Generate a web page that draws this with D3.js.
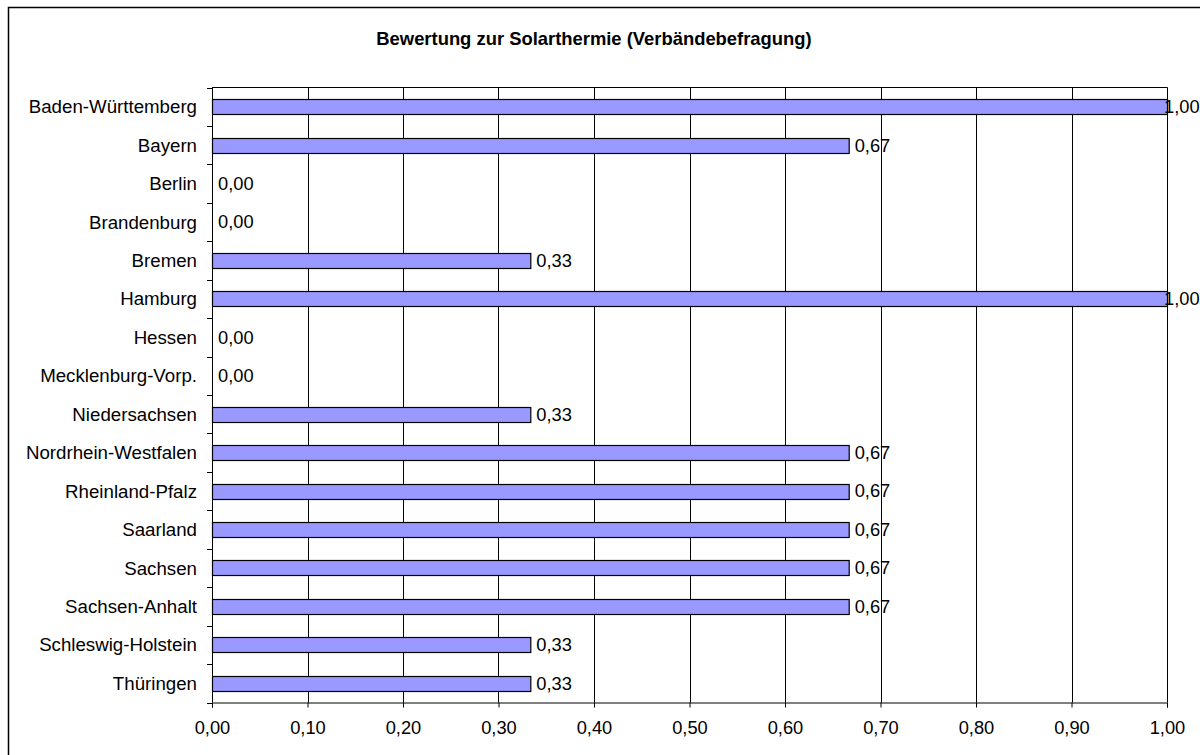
<!DOCTYPE html>
<html>
<head>
<meta charset="utf-8">
<script src="https://cdn.jsdelivr.net/npm/d3@7"></script>
<style>
  body { margin: 0; background: #fff; }
  svg text { font-family: "Liberation Sans", Arial, sans-serif; fill: #000; }
</style>
</head>
<body>
<svg id="chart" width="1200" height="755"></svg>
<script>
// Data
var chartTitle = 'Bewertung zur Solarthermie (Verbändebefragung)';
var states = [
  'Baden-Württemberg', 'Bayern', 'Berlin', 'Brandenburg', 'Bremen', 'Hamburg',
  'Hessen', 'Mecklenburg-Vorp.', 'Niedersachsen', 'Nordrhein-Westfalen',
  'Rheinland-Pfalz', 'Saarland', 'Sachsen', 'Sachsen-Anhalt',
  'Schleswig-Holstein', 'Thüringen'
];
var ratings = [
  1.00, 0.6667, 0.00, 0.00, 0.3333, 1.00,
  0.00, 0.00, 0.3333, 0.6667,
  0.6667, 0.6667, 0.6667, 0.6667,
  0.3333, 0.3333
];
var xTicks = [0, 0.1, 0.2, 0.3, 0.4, 0.5, 0.6, 0.7, 0.8, 0.9, 1.0];

var svg = d3.select('#chart');
var W = 1200;

// Plot area
var plot = { left: 212, right: 1167, top: 87.5, bottom: 702.5 };

var fmt = function(v) { return d3.format('.2f')(v).replace('.', ','); };

// Outer frame (runs off the right and bottom edge)
svg.append('rect')
  .attr('x', 8.5).attr('y', 7.5)
  .attr('width', 1210).attr('height', 770)
  .attr('fill', 'none').attr('stroke', '#000').attr('stroke-width', 1.5);

// Title
svg.append('text')
  .attr('x', 594).attr('y', 45)
  .attr('text-anchor', 'middle')
  .style('font-size', '18.4px').style('font-weight', 'bold')
  .text(chartTitle);

// Scales
var x = d3.scaleLinear().domain([0, 1]).range([plot.left, plot.right]);
var y = d3.scaleBand().domain(states).range([plot.top, plot.bottom])
  .paddingInner(0.61).paddingOuter(0.305);
var step = y.step();

// Gridlines
svg.append('g').selectAll('line')
  .data(xTicks.slice(1))
  .enter().append('line')
  .attr('x1', function(d) { return Math.round(x(d)) + 0.5; })
  .attr('x2', function(d) { return Math.round(x(d)) + 0.5; })
  .attr('y1', plot.top).attr('y2', plot.bottom)
  .attr('stroke', '#000').attr('stroke-width', 1);

// Plot top border
svg.append('line')
  .attr('x1', plot.left).attr('x2', plot.right + 0.5)
  .attr('y1', plot.top).attr('y2', plot.top)
  .attr('stroke', '#000').attr('stroke-width', 1);

// Bars
svg.append('g').selectAll('rect')
  .data(states)
  .enter().append('rect')
  .attr('x', x(0) + 0.5)
  .attr('y', function(d) { return Math.round(y(d)) + 0.5; })
  .attr('width', function(d, i) { return Math.max(0, x(ratings[i]) - x(0)); })
  .attr('height', Math.round(y.bandwidth()))
  .attr('fill', '#9999ff')
  .attr('stroke', function(d, i) { return ratings[i] > 0 ? '#000' : 'none'; })
  .attr('stroke-width', 1.2);

// Value labels
svg.append('g').selectAll('text')
  .data(states)
  .enter().append('text')
  .attr('x', function(d, i) { return Math.min(x(ratings[i]) + 6, W - 36); })
  .attr('y', function(d) { return y(d) + y.bandwidth() / 2; })
  .attr('dy', '0.35em')
  .style('font-size', '18.3px')
  .text(function(d, i) { return fmt(ratings[i]); });

// Y axis (ticks at category boundaries)
var yAxis = svg.append('g');
yAxis.append('line')
  .attr('x1', plot.left + 0.5).attr('x2', plot.left + 0.5)
  .attr('y1', plot.top).attr('y2', plot.bottom)
  .attr('stroke', '#000');
yAxis.selectAll('line.tick')
  .data(d3.range(states.length + 1))
  .enter().append('line')
  .attr('class', 'tick')
  .attr('x1', plot.left - 5).attr('x2', plot.left)
  .attr('y1', function(i) { return Math.round(plot.top + i * step) + 0.5; })
  .attr('y2', function(i) { return Math.round(plot.top + i * step) + 0.5; })
  .attr('stroke', '#000');
yAxis.selectAll('text')
  .data(states)
  .enter().append('text')
  .attr('x', 197)
  .attr('y', function(d) { return y(d) + y.bandwidth() / 2; })
  .attr('dy', '0.35em')
  .attr('text-anchor', 'end')
  .style('font-size', '18.7px')
  .text(function(d) { return d; });

// X axis
var xAxis = svg.append('g')
  .attr('transform', 'translate(0,' + plot.bottom + ')')
  .call(d3.axisBottom(x).tickValues(xTicks).tickSize(5).tickPadding(14).tickFormat(fmt));
xAxis.select('.domain').attr('stroke', '#000');
xAxis.selectAll('.tick line').attr('stroke', '#000');
xAxis.selectAll('.tick text')
  .style('font-size', '18.3px')
  .style('font-family', '"Liberation Sans", Arial, sans-serif')
  .attr('fill', '#000');
</script>
</body>
</html>
